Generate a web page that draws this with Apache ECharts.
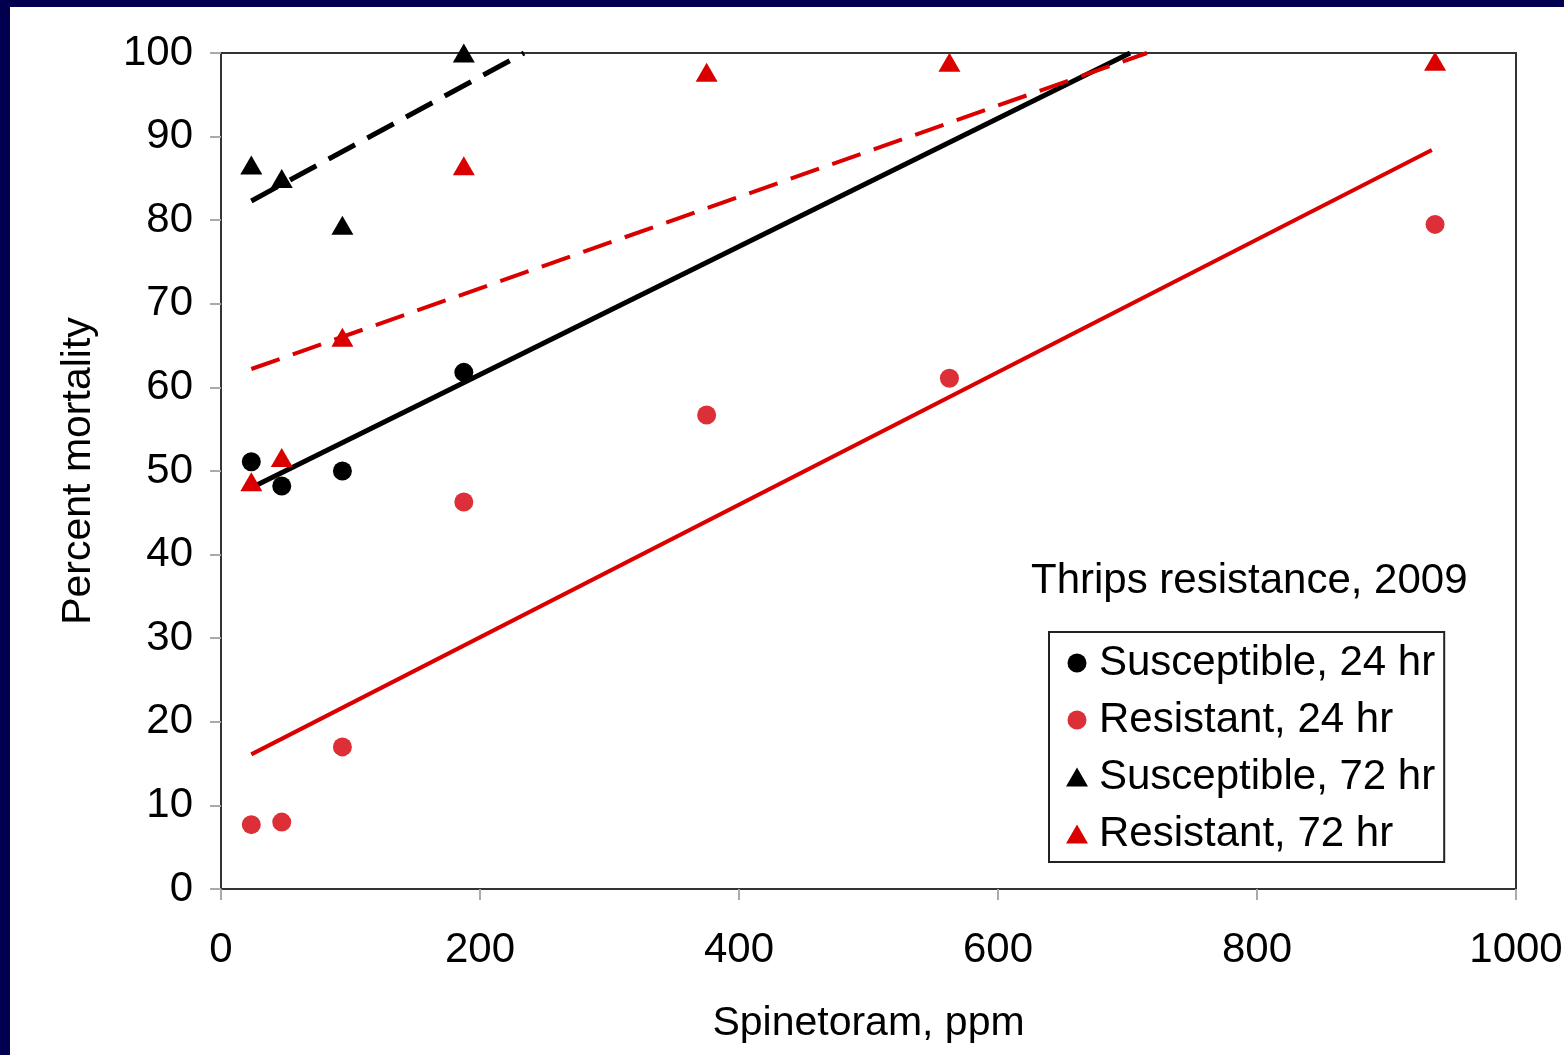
<!DOCTYPE html>
<html>
<head>
<meta charset="utf-8">
<script src="https://cdn.jsdelivr.net/npm/echarts@6/dist/echarts.min.js"></script>
<style>
  html, body { margin: 0; padding: 0; background: #fff; }
  #chart { width: 1564px; height: 1055px; }
</style>
</head>
<body>
<div id="chart"></div>
<script>
// doses (ppm)
const dose = [23.4, 46.9, 93.75, 187.5, 375, 562.5, 937.5]

// percent mortality
const susc24 = [51.1, 48.2, 50.0, 61.8]
const resist24 = [7.7, 8.0, 17.0, 46.3, 56.7, 61.1, 79.5]
const susc72 = [86.6, 85.0, 79.4, 100]
const resist72 = [48.7, 51.6, 66.0, 86.5, 97.7, 98.9, 99.0]

// linear trend lines, [x, y] endpoints (clipped at 100)
const fitSusc24 = [[23.4, 48.0], [702, 100]]
const fitResist24 = [[23.4, 16.1], [935, 88.4]]
const fitSusc72 = [[23.4, 82.3], [234, 100]]
const fitResist72 = [[23.4, 62.2], [715, 100]]

const legendNames = ['Susceptible, 24 hr', 'Resistant, 24 hr', 'Susceptible, 72 hr', 'Resistant, 72 hr']

const FONT = '"Liberation Sans", Arial, sans-serif'
const RED_DOT = '#DC2F38'
const RED = '#DA0000'

function pairs(ys) {
  return ys.map((y, i) => [dose[i], y])
}

const chart = echarts.init(document.getElementById('chart'))
chart.setOption({
  backgroundColor: '#ffffff',
  animation: false,
  textStyle: { fontFamily: FONT },
  graphic: [
    { type: 'rect', shape: { x: 0, y: 0, width: 1564, height: 7 }, style: { fill: '#00004E' }, z: 100 },
    { type: 'rect', shape: { x: 0, y: 0, width: 10, height: 1055 }, style: { fill: '#00004E' }, z: 100 }
  ],
  title: {
    text: 'Thrips resistance, 2009',
    left: 1031,
    top: 560,
    padding: 0,
    textStyle: { fontFamily: FONT, fontSize: 42, fontWeight: 'normal', color: '#000' }
  },
  legend: {
    data: legendNames,
    orient: 'vertical',
    left: 1049,
    top: 632,
    padding: [10, 9, 7, 17],
    backgroundColor: '#fff',
    borderColor: '#222',
    borderWidth: 2,
    borderRadius: 0,
    itemWidth: 22,
    itemHeight: 19,
    itemGap: 15,
    textStyle: { fontFamily: FONT, fontSize: 42, lineHeight: 42, color: '#000', padding: [0, 0, 0, 6] }
  },
  grid: {
    left: 221,
    right: 48,
    top: 53,
    bottom: 166,
    outerBoundsMode: 'none',
    containLabel: false,
    show: true,
    borderColor: '#333',
    borderWidth: 2,
    backgroundColor: '#fff'
  },
  xAxis: {
    type: 'value',
    min: 0,
    max: 1000,
    interval: 200,
    name: 'Spinetoram, ppm',
    nameLocation: 'middle',
    nameGap: 114,
    nameTextStyle: { fontFamily: FONT, fontSize: 41, color: '#000' },
    axisLine: { show: true, onZero: false, lineStyle: { color: '#333', width: 2 } },
    axisTick: { show: true, inside: false, length: 11, lineStyle: { color: '#aaa', width: 2 } },
    axisLabel: { margin: 40, fontFamily: FONT, fontSize: 42, color: '#000', formatter: v => String(v) },
    splitLine: { show: false }
  },
  yAxis: {
    type: 'value',
    min: 0,
    max: 100,
    interval: 10,
    name: 'Percent mortality',
    nameLocation: 'middle',
    nameGap: 122,
    nameTextStyle: { fontFamily: FONT, fontSize: 41, color: '#000' },
    axisLine: { show: true, onZero: false, lineStyle: { color: '#333', width: 2 } },
    axisTick: { show: true, inside: false, length: 11, lineStyle: { color: '#aaa', width: 2 } },
    axisLabel: { margin: 28, fontFamily: FONT, fontSize: 42, color: '#000' },
    splitLine: { show: false }
  },
  series: [
    // trend lines
    {
      type: 'line', data: fitSusc24, symbol: 'none', clip: true, z: 2,
      lineStyle: { color: '#000', width: 5 }
    },
    {
      type: 'line', data: fitResist24, symbol: 'none', clip: true, z: 2,
      lineStyle: { color: RED, width: 4 }
    },
    {
      type: 'line', data: fitSusc72, symbol: 'none', clip: true, z: 2,
      lineStyle: { color: '#000', width: 5, type: [30, 14] }
    },
    {
      type: 'line', data: fitResist72, symbol: 'none', clip: true, z: 2,
      lineStyle: { color: RED, width: 4, type: [30, 14] }
    },
    // observed points
    {
      name: legendNames[0], type: 'scatter', data: pairs(susc24), clip: false, z: 3,
      symbol: 'circle', symbolSize: 19, itemStyle: { color: '#000', opacity: 1 }
    },
    {
      name: legendNames[1], type: 'scatter', data: pairs(resist24), clip: false, z: 3,
      symbol: 'circle', symbolSize: 19, itemStyle: { color: RED_DOT, opacity: 1 }
    },
    {
      name: legendNames[2], type: 'scatter', data: pairs(susc72), clip: false, z: 3,
      symbol: 'triangle', symbolSize: [22, 19], itemStyle: { color: '#000', opacity: 1 }
    },
    {
      name: legendNames[3], type: 'scatter', data: pairs(resist72), clip: false, z: 3,
      symbol: 'triangle', symbolSize: [22, 19], itemStyle: { color: RED, opacity: 1 }
    }
  ]
})
</script>
</body>
</html>
